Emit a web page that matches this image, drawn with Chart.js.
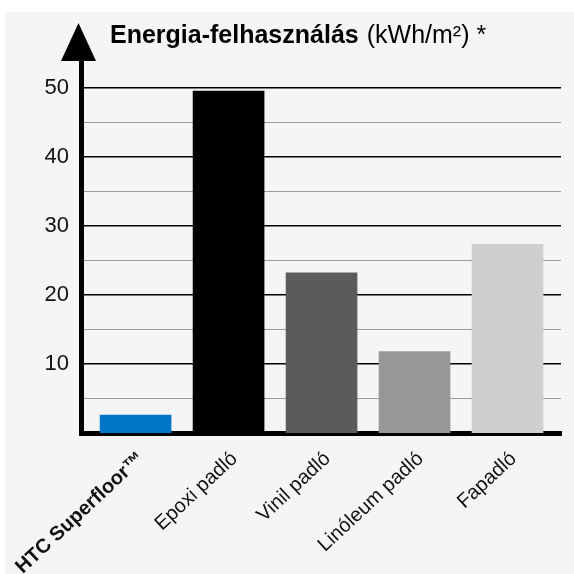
<!DOCTYPE html>
<html>
<head>
<meta charset="utf-8">
<script src="https://cdn.jsdelivr.net/npm/chart.js@4.4.0/dist/chart.umd.min.js"></script>
<style>
  html, body { margin: 0; padding: 0; background: #fff; }
  #panel { position: absolute; left: 5px; top: 12px; width: 569px; height: 562px; background: #f5f5f5; }
  #energy { position: absolute; left: 0; top: 0; }
</style>
</head>
<body>
<div id="panel"></div>
<canvas id="energy" width="574" height="574"></canvas>
<script>
// data
var categories = ["HTC Superfloor\u2122", "Epoxi padló", "Vinil padló", "Linóleum padló", "Fapadló"];
var energyUse = [2.6, 49.5, 23.2, 11.8, 27.3];
var barColors = ['#0077c6', '#000000', '#5b5b5b', '#979797', '#cfcfcf'];
var gridValues = [5, 10, 15, 20, 25, 30, 35, 40, 45, 50];
var titleBold = "Energia-felhasználás";
var titleRest = "(kWh/m\u00b2) *";

var FONT = '"Liberation Sans", Arial, Helvetica, sans-serif';

// arrow on top of the y axis + the title
var decorations = {
    id: 'decorations',
    afterDraw: function (chart) {
        var ctx = chart.ctx;
        var area = chart.chartArea;
        var x = area.left - 2.5;
        ctx.save();
        ctx.fillStyle = '#000';
        ctx.beginPath();
        ctx.moveTo(x, area.top - 37);
        ctx.lineTo(x - 17.5, area.top + 1);
        ctx.lineTo(x + 17.5, area.top + 1);
        ctx.closePath();
        ctx.fill();

        ctx.textBaseline = 'alphabetic';
        ctx.font = 'bold 25px ' + FONT;
        ctx.fillText(titleBold, 110, 43);
        var w = ctx.measureText(titleBold).width;
        ctx.font = '25px ' + FONT;
        ctx.fillText(titleRest, 110 + w + 8, 43);
        ctx.restore();
    }
};

var ctx = document.getElementById('energy').getContext('2d');
var chart = new Chart(ctx, {
    type: 'bar',
    data: {
        datasets: [{
            data: categories.map(function (c, i) { return { x: i, y: energyUse[i] }; }),
            backgroundColor: barColors,
            borderWidth: 0,
            barThickness: 71
        }]
    },
    options: {
        responsive: false,
        devicePixelRatio: 1,
        animation: false,
        layout: { padding: { top: 60, right: 13, bottom: 0, left: 0 } },
        plugins: {
            legend: { display: false },
            tooltip: { enabled: false }
        },
        scales: {
            x: {
                type: 'linear',
                offset: false,
                min: -0.587,
                max: 4.575,
                grid: { display: false, drawTicks: false, offset: false },
                border: { display: true, color: '#000', width: 5 },
                afterBuildTicks: function (scale) {
                    scale.ticks = categories.map(function (c, i) { return { value: i }; });
                },
                afterFit: function (scale) {
                    scale.height = 141;
                    scale.paddingLeft = 0;
                    scale.paddingRight = 0;
                },
                ticks: {
                    autoSkip: false,
                    minRotation: 43,
                    maxRotation: 43,
                    padding: 14,
                    labelOffset: 6,
                    color: '#111',
                    font: function (c) {
                        return { family: FONT, size: 20, weight: c.index === 0 ? 'bold' : 'normal' };
                    },
                    callback: function (value) { return categories[value]; }
                }
            },
            y: {
                min: 0,
                max: 54,
                grid: {
                    drawTicks: false,
                    color: function (c) { return c.tick.value % 10 === 0 ? '#000' : '#9a9a9a'; },
                    lineWidth: function (c) { return c.tick.value % 10 === 0 ? 1.5 : 1; }
                },
                border: { display: true, color: '#000', width: 5 },
                afterBuildTicks: function (scale) {
                    scale.ticks = gridValues.map(function (v) { return { value: v }; });
                },
                afterFit: function (scale) { scale.width = 81; },
                ticks: {
                    autoSkip: false,
                    padding: 12,
                    color: '#111',
                    font: { family: FONT, size: 22 },
                    callback: function (value) { return value % 10 === 0 ? value : ''; }
                }
            }
        }
    },
    plugins: [decorations]
});
</script>
</body>
</html>
